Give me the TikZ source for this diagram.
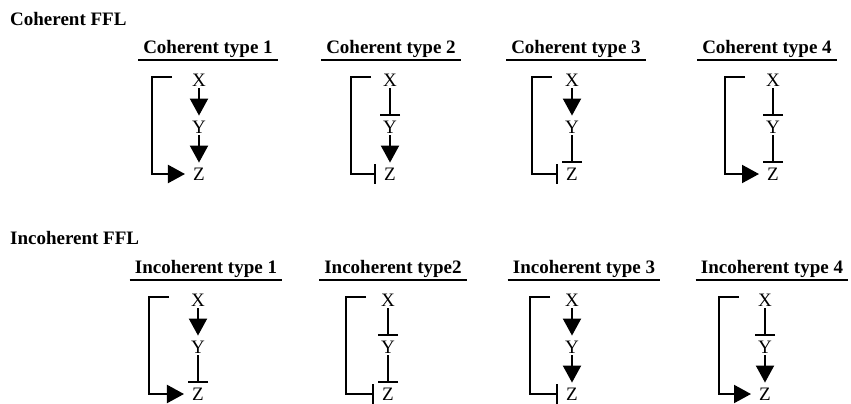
\documentclass[tikz,border=0pt]{standalone}
\usepackage{fontspec}
\setmainfont{Liberation Serif}
\usetikzlibrary{arrows.meta}
\tikzstyle{gene} = [inner sep=2pt, font=\fontsize{19}{19}\selectfont]
\tikzstyle{head} = [anchor=base, inner xsep=5pt, inner ysep=3pt, font=\fontsize{19}{19}\selectfont\bfseries]
\tikzstyle{section} = [anchor=base west, inner sep=0pt, font=\fontsize{19}{19}\selectfont\bfseries]
\tikzstyle{wire} = [line width=2pt]
\tikzstyle{act} = [wire, -{Triangle[width=18pt,length=17pt]}]
\tikzstyle{inh} = [wire, -{Bar[width=20pt]}]

\begin{document}
\begin{tikzpicture}[x=1pt,y=-1pt]
\useasboundingbox (0,0) rectangle (851,404);
% #1 name, #2 x of X, #3 y of X, #4 x of bracket, #5 x of title, #6 title,
% #7 X-Y, #8 Y-Z, #9 X-Z
\def\ffl#1#2#3#4#5#6#7#8#9{
  \node[head] (T#1) at (#5,#3-27) {#6};
  \draw[wire] (T#1.south west) -- (T#1.south east);
  \node[gene] (X#1) at (#2,#3) {X};
  \node[gene] (Y#1) at (#2,#3+47) {Y};
  \node[gene] (Z#1) at (#2,#3+94) {Z};
  \draw[#7, shorten >=3pt] (X#1) -- (Y#1);
  \draw[#8, shorten >=3pt] (Y#1) -- (Z#1);
  \coordinate (B#1) at (#4+20,#3-3);
  \draw[#9, shorten >=6pt] (B#1) -- ++(-20,0) |- (Z#1);
}
\node[section] (coh) at (10,26) {Coherent FFL};
\node[section] (inc) at (10,244) {Incoherent FFL};
% coherent
\ffl{c1}{199}{80}{152}{208}{Coherent type 1}{act}{act}{act}
\ffl{c2}{390}{80}{351}{391}{Coherent type 2}{inh}{act}{inh}
\ffl{c3}{572}{80}{532}{576}{Coherent type 3}{act}{inh}{inh}
\ffl{c4}{773}{80}{725}{767}{Coherent type 4}{inh}{inh}{act}
% incoherent
\ffl{i1}{198}{300}{149}{206}{Incoherent type 1}{act}{inh}{act}
\ffl{i2}{388}{300}{346}{393}{Incoherent type2}{inh}{inh}{inh}
\ffl{i3}{572}{300}{530}{584}{Incoherent type 3}{act}{act}{inh}
\ffl{i4}{765}{300}{719}{772}{Incoherent type 4}{inh}{act}{act}
\end{tikzpicture}
\end{document}
